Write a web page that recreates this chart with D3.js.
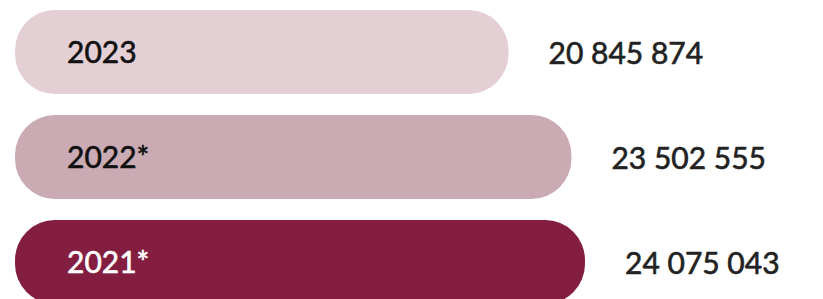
<!DOCTYPE html>
<html>
<head>
<meta charset="utf-8">
<script src="https://cdn.jsdelivr.net/npm/d3@7"></script>
<style>
  html, body { margin: 0; padding: 0; background: #fff; }
  svg { display: block; }
</style>
</head>
<body>
<svg width="823" height="299"></svg>
<script>
// data
var years = ["2023", "2022*", "2021*"];
var values = [20845874, 23502555, 24075043];
var valueLabels = ["20 845 874", "23 502 555", "24 075 043"];

var colors = ["#e4cfd5", "#caabb3", "#841e41"];
var labelColors = ["#111", "#111", "#fff"];

var svg = d3.select("svg"),
  margin = { left: 15, top: 10 },
  g = svg.append("g").attr("transform", "translate(" + margin.left + "," + margin.top + ")");

var data = years.map(function (y, i) {
  return { year: y, value: values[i], label: valueLabels[i], i: i };
});

var x = d3.scaleLinear()
  .domain([0, d3.max(values)])
  .range([0, 570]);

var y = d3.scaleBand()
  .domain(years)
  .range([0, 294])
  .paddingInner(0.2)
  .paddingOuter(0);

var font = "Lato, 'Open Sans', sans-serif";

var row = g.selectAll(".row")
  .data(data)
  .enter().append("g")
  .attr("class", "row")
  .attr("transform", function (d) { return "translate(0," + y(d.year) + ")"; });

row.append("rect")
  .attr("x", 0)
  .attr("y", 0)
  .attr("width", function (d) { return x(d.value); })
  .attr("height", y.bandwidth())
  .attr("rx", 40)
  .attr("ry", 40)
  .attr("fill", function (d) { return colors[d.i]; });

// year inside the bar
row.append("text")
  .attr("x", 52)
  .attr("y", y.bandwidth() / 2 + 11)
  .attr("font-family", font)
  .attr("font-size", 30)
  .attr("fill", function (d) { return labelColors[d.i]; })
  .attr("stroke", function (d) { return labelColors[d.i]; })
  .attr("stroke-width", 0.6)
  .text(function (d) { return d.year; });

// value after the bar
row.append("text")
  .attr("x", function (d) { return x(d.value) + 40; })
  .attr("y", y.bandwidth() / 2 + 12)
  .attr("font-family", font)
  .attr("font-size", 30)
  .attr("fill", "#222")
  .attr("stroke", "#222")
  .attr("stroke-width", 0.6)
  .text(function (d) { return d.label; });
</script>
</body>
</html>
